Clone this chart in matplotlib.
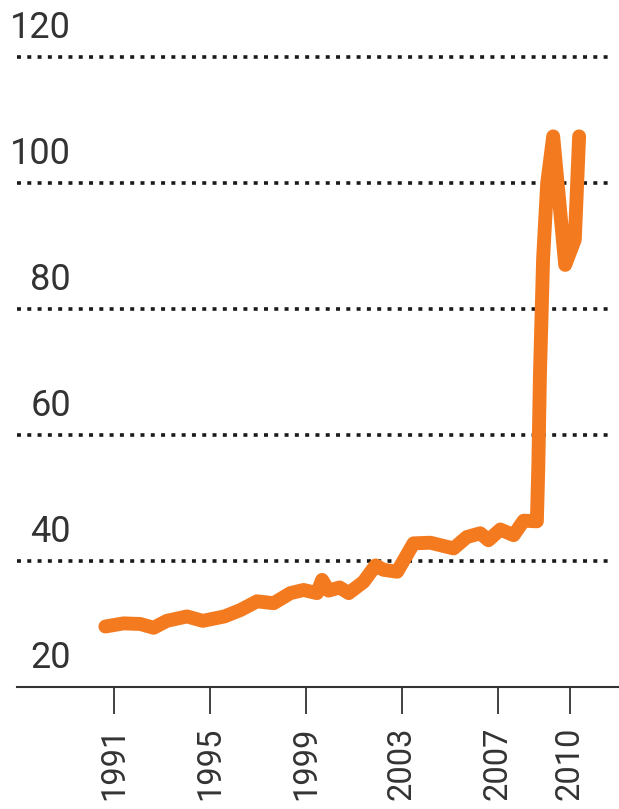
import matplotlib
matplotlib.use("Agg")
import matplotlib.pyplot as plt
import matplotlib.transforms as mtransforms

# series (decimal year, value)
years = [1990.64, 1991.4, 1992.1, 1992.65, 1993.2, 1994.04, 1994.7, 1995.6, 1996.26,
         1996.96, 1997.65, 1998.35, 1998.9, 1999.46, 1999.67, 1999.94, 2000.4, 2000.78,
         2001.4, 2001.9, 2002.23, 2002.8, 2003.48, 2004.18, 2005.15, 2005.7, 2006.26,
         2006.6, 2007.1, 2007.65, 2008.07, 2008.62, 2008.68, 2008.75, 2008.88, 2009.05,
         2009.3, 2009.8, 2010.2, 2010.38]
values = [29.6, 30.1, 30.0, 29.4, 30.5, 31.2, 30.5, 31.2, 32.2,
          33.6, 33.3, 34.9, 35.4, 34.9, 37.0, 35.3, 35.8, 34.9,
          36.7, 39.3, 38.6, 38.3, 42.8, 42.9, 42.0, 43.8, 44.4,
          43.3, 45.0, 44.1, 46.4, 46.3, 55.0, 70.0, 88.0, 100.0,
          107.4, 87.0, 91.0, 107.4]

y_ticks = [20, 40, 60, 80, 100, 120]
grid_lines = [40, 60, 80, 100, 120]
x_ticks = [1991, 1995, 1999, 2003, 2007, 2010]

W, H = 619, 809
fig = plt.figure(figsize=(W / 100, H / 100), dpi=100)
ax_left, ax_right = 16.5, 619
ax_bottom, ax_top = 687, 0
ax = fig.add_axes([ax_left / W, (H - ax_bottom) / H, (ax_right - ax_left) / W, (ax_bottom - ax_top) / H])

# 1991 tick at 114 px, 24 px per year ; value 20 at 687 px, 6.3 px per unit
px_year = 24.0
ax.set_xlim(1991 - (114 - ax_left) / px_year, 1991 + (ax_right - 114) / px_year)
ax.set_ylim(20, 20 + (ax_bottom - ax_top) / 6.3)

text_color = "#333333"
for g in grid_lines:
    ax.axhline(g, xmin=0, xmax=(610 - ax_left) / (ax_right - ax_left), color="#1a1a1a",
               lw=2.6, dashes=(1.1, 1.75), zorder=1)

ax.plot(years, values, color="#f47a20", lw=10, solid_capstyle="round",
        solid_joinstyle="round", zorder=3)

for s in ["top", "right", "left"]:
    ax.spines[s].set_visible(False)
ax.spines["bottom"].set_color("#333333")
ax.spines["bottom"].set_linewidth(1.5)

ax.set_yticks([])
ax.set_xticks(x_ticks)
ax.set_xticklabels([str(x) for x in x_ticks], rotation=90, fontsize=23.5,
                   family="Roboto", color=text_color)
ax.tick_params(axis="x", length=19.5, width=1.3, color="#333333", pad=9)

# y labels sit above their gridlines, right-aligned
offset = mtransforms.ScaledTranslation(0, 8 / 72, fig.dpi_scale_trans)
trans = ax.get_yaxis_transform() + offset
for v in y_ticks:
    ax.text((71 - ax_left) / (ax_right - ax_left), v, str(v), transform=trans,
            ha="right", va="bottom", fontsize=26, family="Roboto", color=text_color)

fig.savefig("out.png", dpi=100)
